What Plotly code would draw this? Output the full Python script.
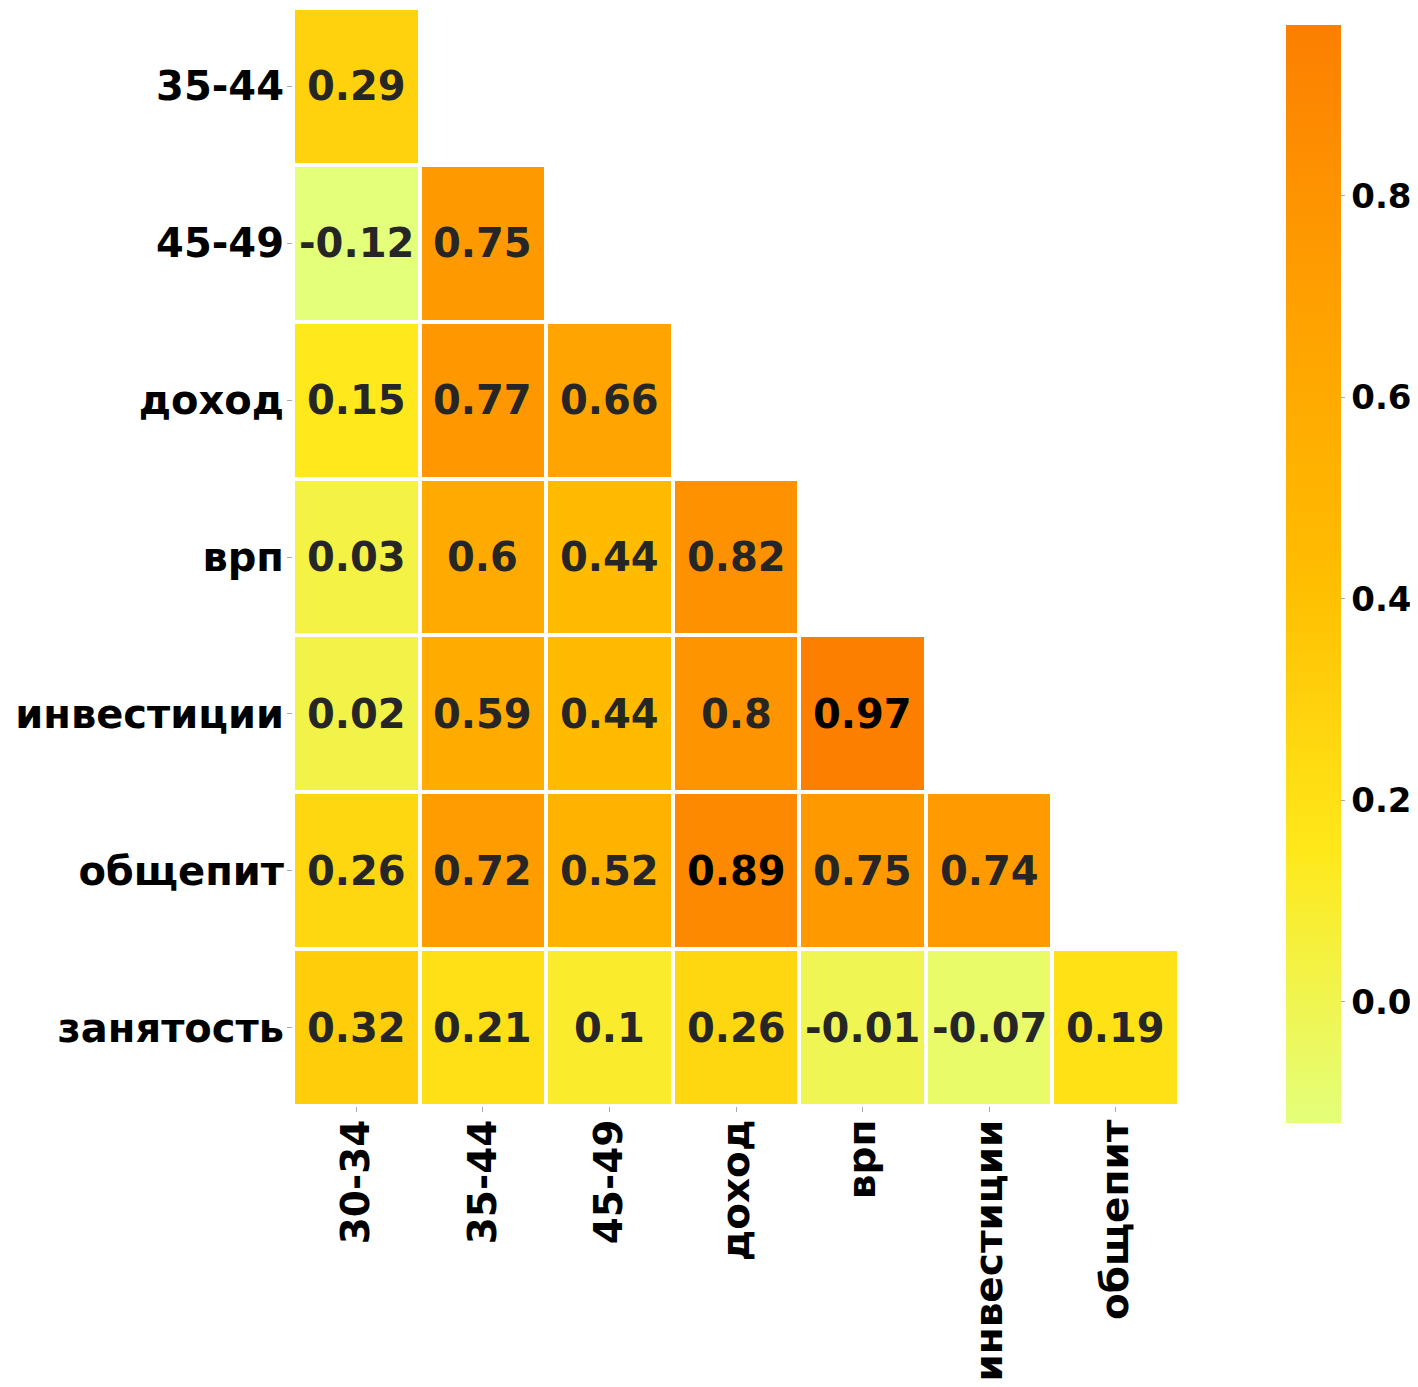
import plotly.graph_objects as go

x_labels = ["30-34", "35-44", "45-49", "доход", "врп", "инвестиции", "общепит"]
y_labels = ["35-44", "45-49", "доход", "врп", "инвестиции", "общепит", "занятость"]

row_35_44 = [0.29]
row_45_49 = [-0.12, 0.75]
row_dohod = [0.15, 0.77, 0.66]
row_vrp = [0.03, 0.6, 0.44, 0.82]
row_invest = [0.02, 0.59, 0.44, 0.8, 0.97]
row_obshchepit = [0.26, 0.72, 0.52, 0.89, 0.75, 0.74]
row_zanyatost = [0.32, 0.21, 0.1, 0.26, -0.01, -0.07, 0.19]

rows = [row_35_44, row_45_49, row_dohod, row_vrp, row_invest, row_obshchepit, row_zanyatost]
n = len(x_labels)
z = [r + [None] * (n - len(r)) for r in rows]

zmin = min(v for r in rows for v in r)
zmax = max(v for r in rows for v in r)

wistia = [
    [0.0, "#e4ff7a"],
    [0.25, "#ffe81a"],
    [0.5, "#ffbd00"],
    [0.75, "#ffa000"],
    [1.0, "#fc7f00"],
]

# page has an 8px body margin; figure sized to fit the window
W, H = 1410, 1379
L, R, T, B = 285, 1171.5, 0, 1098.5
cb_left, cb_top, cb_bottom = 1279, 17, 1115

fig = go.Figure(go.Heatmap(
    z=z, x=x_labels, y=y_labels,
    colorscale=wistia, zmin=zmin, zmax=zmax,
    xgap=4, ygap=4, hoverongaps=False,
    colorbar=dict(
        thickness=55, lenmode="pixels", len=cb_bottom - cb_top,
        x=(cb_left - L) / (R - L), xanchor="left", xpad=0,
        y=(B - (cb_top + cb_bottom) / 2) / (B - T), yanchor="middle", ypad=0,
        outlinewidth=0,
        tickvals=[0.0, 0.2, 0.4, 0.6, 0.8],
        ticktext=["0.0", "0.2", "0.4", "0.6", "0.8"],
        ticks="outside", ticklen=4, tickcolor="#aaaaaa", tickwidth=1,
        tickfont=dict(family="DejaVu Sans", size=34, color="black", weight="bold"),
    ),
))

annotations = []
for i, r in enumerate(rows):
    for j, v in enumerate(r):
        annotations.append(dict(
            x=x_labels[j], y=y_labels[i], xref="x", yref="y",
            text=f"{v:g}", showarrow=False,
            font=dict(family="DejaVu Sans", size=40, weight="bold",
                      color="black" if v > 0.85 else "#262626"),
        ))

fig.update_layout(
    width=W, height=H,
    margin=dict(l=L, r=W - R, t=T, b=H - B, pad=0, autoexpand=False),
    plot_bgcolor="white", paper_bgcolor="white",
    annotations=annotations,
    xaxis=dict(
        tickangle=-90, ticks="outside", ticklen=5, tickcolor="#aaaaaa",
        ticklabelstandoff=-8,
        showgrid=False, zeroline=False, showline=False, automargin=False,
        tickfont=dict(family="DejaVu Sans", size=39, color="black", weight="bold"),
    ),
    yaxis=dict(
        autorange="reversed", ticks="outside", ticklen=5, tickcolor="#aaaaaa",
        ticklabelstandoff=-5,
        showgrid=False, zeroline=False, showline=False, automargin=False,
        tickfont=dict(family="DejaVu Sans", size=40, color="black", weight="bold"),
    ),
)

fig.write_html("out.html")
